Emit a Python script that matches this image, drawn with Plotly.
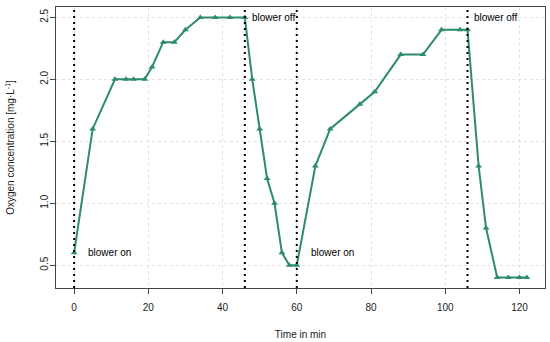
import plotly.graph_objects as go

time_min = [0, 5, 11, 14, 16, 19, 21, 24, 27, 30, 34, 38, 42, 46, 48, 50, 52, 54, 56, 58, 60,
            65, 69, 77, 81, 88, 94, 99, 104, 106, 109, 111, 114, 117, 120, 122]
oxygen = [0.6, 1.6, 2.0, 2.0, 2.0, 2.0, 2.1, 2.3, 2.3, 2.4, 2.5, 2.5, 2.5, 2.5, 2.0, 1.6, 1.2, 1.0, 0.6, 0.5, 0.5,
          1.3, 1.6, 1.8, 1.9, 2.2, 2.2, 2.4, 2.4, 2.4, 1.3, 0.8, 0.4, 0.4, 0.4, 0.4]

event_times = [0, 46, 60, 106]
event_labels = ["blower on", "blower off", "blower on", "blower off"]
label_x = [3.2, 47.4, 63.2, 107.3]
label_y = [0.6, 2.5, 0.6, 2.5]

x_ticks = [0, 20, 40, 60, 80, 100, 120]
y_ticks = [0.5, 1.0, 1.5, 2.0, 2.5]
y_tick_text = ["0.5", "1.0", "1.5", "2.0", "2.5"]

color = "#2e8b6e"
axis_col = "#444444"
font = "Liberation Sans, Arial, sans-serif"

fig = go.Figure()
fig.add_trace(go.Scatter(
    x=time_min, y=oxygen, mode="lines+markers",
    line=dict(color=color, width=2),
    marker=dict(symbol="triangle-up", size=6, color=color),
    showlegend=False,
))

for t in event_times:
    fig.add_shape(type="line", xref="x", yref="paper", x0=t, x1=t, y0=0, y1=1,
                  line=dict(color="black", width=2, dash="2px,4px"), layer="above")

for lx, ly, txt in zip(label_x, label_y, event_labels):
    fig.add_annotation(x=lx, y=ly, xref="x", yref="y", text=txt, showarrow=False,
                       xanchor="left", yanchor="middle",
                       font=dict(family=font, size=10, color="black"))

fig.update_layout(
    width=550, height=342, autosize=False,
    margin=dict(l=56, r=5, t=7, b=54),
    paper_bgcolor="white", plot_bgcolor="white",
    font=dict(family=font, size=10, color="#222222"),
    xaxis=dict(
        range=[-4.88, 126.88], tickvals=x_ticks, ticks="outside", ticklen=5,
        tickcolor=axis_col, showline=True, linecolor=axis_col, linewidth=1, mirror=True,
        showgrid=True, gridcolor="#e2e2e2", griddash="dot", gridwidth=1, zeroline=False,
        ticklabelstandoff=5, automargin=False,
        title=dict(text="Time in min", standoff=18, font=dict(size=10)),
    ),
    yaxis=dict(
        range=[0.316, 2.584], tickvals=y_ticks, ticktext=y_tick_text, tickangle=270,
        ticks="outside", ticklen=5,
        tickcolor=axis_col, showline=True, linecolor=axis_col, linewidth=1, mirror=True,
        showgrid=True, gridcolor="#e2e2e2", griddash="dot", gridwidth=1, zeroline=False,
        ticklabelstandoff=-2, automargin=False,
        title=dict(text="Oxygen concentration [mg·L<sup>-1</sup>]", standoff=22, font=dict(size=10)),
    ),
)

fig.write_html("out.html", config={"displayModeBar": False},
               post_script="document.body.style.margin='0';")
